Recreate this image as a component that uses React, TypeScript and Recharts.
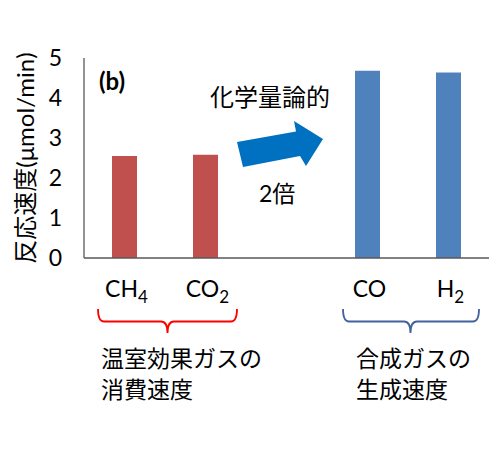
import React from "react";
import { BarChart, Bar, Cell, XAxis, YAxis } from "recharts";

// categories (the empty slot in the middle is where the arrow sits)
const species = ["CH4", "CO2", "", "CO", "H2"];
const mainText = ["CH", "CO", "", "CO", "H"];
const subText = ["4", "2", "", "", "2"];
const rates = [2.55, 2.58, null, 4.68, 4.64];
const barColors = ["#c0504d", "#c0504d", "#c0504d", "#4f81bd", "#4f81bd"];
const yTicks = [0, 1, 2, 3, 4, 5];

const data = species.map((name, i) => ({ name, value: rates[i] }));

const FONT = "Lato, 'Noto Sans CJK JP', sans-serif";
const JP = "'Noto Sans CJK JP', sans-serif";

const FormulaTick = (props: any) => {
  const { x, y, index } = props;
  const main = mainText[index];
  if (!main) return null;
  const sub = subText[index];
  return (
    <text x={x + 2} y={y + 39} textAnchor="middle" fontFamily={FONT} fontSize={23} fill="#000">
      {main}
      {sub && (
        <tspan dy={6} fontSize={17}>
          {sub}
        </tspan>
      )}
    </text>
  );
};

export default function App() {
  return (
    <div style={{ position: "absolute", left: 0, top: 0, width: 500, height: 451, background: "#fff" }}>
      <BarChart
        width={500}
        height={451}
        data={data}
        margin={{ top: 58, right: 11, bottom: 153, left: 0 }}
        barCategoryGap={0}
      >
        <XAxis
          dataKey="name"
          interval={0}
          tickLine={false}
          tickSize={0}
          tickMargin={0}
          height={40}
          axisLine={{ stroke: "#595959", strokeWidth: 1.3 }}
          tick={<FormulaTick />}
        />
        <XAxis
          xAxisId="top"
          orientation="top"
          dataKey="name"
          height={0}
          tick={false}
          tickLine={false}
          axisLine={{ stroke: "#595959", strokeWidth: 1.3 }}
        />
        <YAxis
          domain={[0, 5]}
          ticks={yTicks}
          width={84}
          tickLine={false}
          tickMargin={16}
          axisLine={{ stroke: "#595959", strokeWidth: 1.3 }}
          tick={{ fontSize: 23, fill: "#000", fontFamily: FONT }}
          label={{
            value: "反応速度(μmol/min)",
            angle: -90,
            position: "insideLeft",
            offset: 25,
            style: { textAnchor: "middle", fontSize: 24, fill: "#000", fontFamily: FONT },
          }}
        />
        <YAxis
          yAxisId="right"
          orientation="right"
          domain={[0, 5]}
          width={0}
          tick={false}
          tickLine={false}
          axisLine={{ stroke: "#595959", strokeWidth: 1.3 }}
        />
        <Bar dataKey="value" barSize={25} isAnimationActive={false}>
          {data.map((_, i) => (
            <Cell key={i} fill={barColors[i]} />
          ))}
        </Bar>
      </BarChart>
      <svg
        width={500}
        height={451}
        style={{ position: "absolute", left: 0, top: 0, pointerEvents: "none" }}
      >
        <text x={99} y={90} fontFamily={FONT} fontWeight="bold" fontSize={24} fill="#000">
          (b)
        </text>
        <text x={210} y={95} dominantBaseline="central" fontFamily={JP} fontSize={24} fill="#000">
          化学量論的
        </text>
        <polygon
          points="237,142 296,131.5 294,121 323,139 306,166 300,156 243,167"
          fill="#0070c0"
        />
        <text x={259} y={193} dominantBaseline="central" fontFamily={FONT} fontSize={23} fill="#000">
          2倍
        </text>
        <path
          d="M98,309 Q98,321.5 104,321.5 L161,321.5 Q167.5,321.5 167.5,333 Q167.5,321.5 174,321.5 L231,321.5 Q237,321.5 237,309"
          fill="none"
          stroke="#ff0000"
          strokeWidth={1.8}
        />
        <path
          d="M343,309 Q343,321.5 349,321.5 L404,321.5 Q410.5,321.5 410.5,333 Q410.5,321.5 417,321.5 L473,321.5 Q479,321.5 479,309"
          fill="none"
          stroke="#41639e"
          strokeWidth={1.8}
        />
        <g fontFamily={JP} fontSize={23} fill="#000">
          <text x={101} y={357} dominantBaseline="central">温室効果ガスの</text>
          <text x={101} y={388} dominantBaseline="central">消費速度</text>
          <text x={356} y={357} dominantBaseline="central">合成ガスの</text>
          <text x={356} y={388} dominantBaseline="central">生成速度</text>
        </g>
      </svg>
    </div>
  );
}
